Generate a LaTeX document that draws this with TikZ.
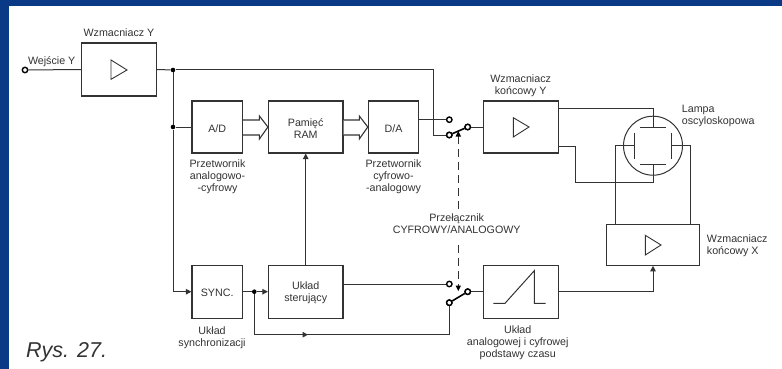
\documentclass[tikz,border=0pt]{standalone}
\usepackage{fontspec}
\setmainfont{Liberation Sans}
\usetikzlibrary{arrows.meta,calc}
\definecolor{frameblue}{HTML}{0A3A85}
\definecolor{ink}{HTML}{333333}
\tikzset{
  x=1pt,y=-1pt,
  wire/.style={draw=ink,line width=1pt},
  arr/.style={wire,-{Triangle[length=5.5pt,width=5.5pt]}},
  block/.style={draw=ink,line width=1.1pt,fill=white,inner sep=0pt},
  lbl/.style={inner sep=0pt,align=center,font=\fontsize{10.7}{12}\selectfont,text=ink},
  lbll/.style={lbl,align=left,anchor=west},
  intext/.style={lbl,yshift=-1.5pt},
  dot/.style={circle,fill=black,draw=none,minimum size=4.6pt,inner sep=0pt},
  term/.style={circle,fill=white,draw=black,line width=1.4pt,minimum size=5.4pt,inner sep=0pt},
  tri/.style={draw=ink,line width=0.9pt,fill=white,line join=miter},
  plate/.style={draw=ink,line width=1pt},
  lever/.style={draw=black,line width=1.6pt},
  dashedctl/.style={draw=ink,line width=1pt,dash pattern=on 8pt off 5pt},
  hollow/.style={draw=ink,line width=1.1pt,fill=white},
}
\begin{document}
\begin{tikzpicture}
\useasboundingbox (0,0) rectangle (782,369);
\fill[white] (0,0) rectangle (782,369);
\fill[frameblue] (0,0) rectangle (782,6);
\fill[frameblue] (0,0) rectangle (9,369);

% blocks
\node[block,minimum width=74.5pt,minimum height=53pt] (wy) at (119,69.5) {};
\node[block,minimum width=50.5pt,minimum height=52pt,label={[intext]center:A/D}] (ad) at (217.2,127) {};
\node[block,minimum width=74.5pt,minimum height=52pt,label={[intext]center:{Pamięć\\RAM}}] (ram) at (305.7,127) {};
\node[block,minimum width=50.5pt,minimum height=52pt,label={[intext]center:D/A}] (da) at (393.6,127) {};
\node[block,minimum width=74.5pt,minimum height=52pt] (ky) at (521,127) {};
\node[block,minimum width=50.5pt,minimum height=52.7pt,label={[intext]center:SYNC.}] (sync) at (217.2,291.7) {};
\node[block,minimum width=74.5pt,minimum height=52.7pt,label={[intext]center:{Układ\\sterujący}}] (ster) at (305.7,291.7) {};
\node[block,minimum width=74.5pt,minimum height=52.7pt] (ramp) at (521,291.7) {};
\node[block,minimum width=92.6pt,minimum height=40.6pt] (kx) at (653,245) {};

% terminals and junctions
\node[term] (in) at (25,70) {};
\node[dot] (j1) at (173,70) {};
\node[dot] (j2) at (173,127) {};
\node[dot] (j3) at (254.3,291.7) {};
\node[term] (s1a) at (449.3,119.7) {};
\node[term] (s1b) at (449.3,135) {};
\node[term] (s1c) at (467.7,127) {};
\node[term] (s2a) at (449.3,284) {};
\node[term] (s2b) at (449.3,302.7) {};
\node[term] (s2c) at (467.7,291.7) {};

% signal path
\draw[wire] (in) -- (wy.west);
\draw[wire] (wy.east) -- (j1);
\draw[wire] (j1) -- (433.7,70) -- (433.7,135) -- (s1b);
\draw[wire] (j1) -- (j2);
\draw[wire] (j2) -- (ad.west);
\draw[arr] (j2) -- (173,291.7) -- (sync.west);
\draw[wire] (da.east |- s1a) -- (s1a);
\draw[wire] (s1c) -- (ky.west);
\draw[wire] (s2c) -- (ramp.west);
\draw[wire] (ster.east |- s2a) -- (s2a);
\draw[wire] (sync.east) -- (j3);
\draw[arr] (j3) -- (ster.west);
\draw[arr] (ster.north) -- (ram.south);
\draw[wire] (j3) -- (254.3,334.7) -- (449.3,334.7) -- (s2b);
\draw[arr] (300,334.7) -- (308,334.7);
\draw[arr] (ramp.east) -- (653,291.7) -- (kx.south);

% switch levers
\draw[lever] (s1b) -- (s1c);
\draw[lever] (s2b) -- (s2c);
\node[term] at (s1b) {};
\node[term] at (s1c) {};
\node[term] at (s2b) {};
\node[term] at (s2c) {};

% dashed control
\coordinate (c1) at (458.3,131);
\coordinate (c2) at (458.3,212);
\coordinate (c3) at (458.3,245);
\coordinate (c4) at (458.3,292);
\draw[dashedctl] ($(c1)+(0,5)$) -- (c2);
\draw[dashedctl] (c3) -- ($(c4)+(0,-5)$);
\fill[black] (c1) -- ++(-2.8,5.5) -- ++(5.6,0) -- cycle;
\fill[black] ($(c4)+(0,-1)$) -- ++(-2.8,-5.5) -- ++(5.6,0) -- cycle;

% hollow bus arrows
\foreach \a/\b/\n in {ad/ram/A,ram/da/B}{
  \path (\a.east) ++(0,-7) coordinate (\n1) (\a.east) ++(0,8) coordinate (\n2);
  \path (\b.west) ++(-8.5,-7) coordinate (\n3);
  \draw[hollow] (\n1) -- (\n3) -- ++(0,-4) -- (\b.west) -- ($(\n3)+(0,19)$) -- ++(0,-4) -- (\n2);
}

% lamp
\node[circle,draw=ink,line width=1pt,minimum size=59pt,inner sep=0pt] (lamp) at (653,145.7) {};
\coordinate (pt) at (653,127);
\coordinate (pb) at (653,164.3);
\coordinate (pl) at (634.3,145.7);
\coordinate (pr) at (671.7,145.7);
\draw[plate] ($(pt)+(-13,0)$) -- ($(pt)+(13,0)$);
\draw[plate] ($(pb)+(-13,0)$) -- ($(pb)+(13,0)$);
\draw[plate] ($(pl)+(0,-12.8)$) -- ($(pl)+(0,12.8)$);
\draw[plate] ($(pr)+(0,-12.8)$) -- ($(pr)+(0,12.8)$);
\draw[wire] (ky.east |- 0,108) -- (653,108) -- (pt);
\draw[wire] (ky.east |- 0,146) -- (575.3,146) -- (575.3,182.7) -- (653,182.7) -- (pb);
\draw[wire] (pl) -- (615.7,145.7) -- (615.7,224.7);
\draw[wire] (pr) -- (690.3,145.7) -- (690.3,224.7);

% amplifier triangles
\draw[tri] (111,60) -- (127,70) -- (111,79.3) -- cycle;
\draw[tri] (513.3,117.7) -- (529,127) -- (513.3,137) -- cycle;
\draw[tri] (645.3,235.3) -- (661,245) -- (645.3,255) -- cycle;
% ramp
\draw[wire] (493.3,303.3) -- (505,303.3) -- (534.3,270.7) -- (534.3,303.3) -- (545.7,303.3);

% labels
\node[lbl] (t1) at (119,33) {Wzmacniacz Y};
\node[lbl] (t2) at (51.7,61.3) {Wejście Y};
\node[lbl] (t3) at (217.5,177) {Przetwornik\\analogowo-\\-cyfrowy};
\node[lbl] (t4) at (393.5,177) {Przetwornik\\cyfrowo-\\-analogowy};
\node[lbl] (t5) at (520.7,85.5) {Wzmacniacz\\końcowy Y};
\node[lbll] (t6) at (681.7,115.5) {Lampa\\oscyloskopowa};
\node[lbl] (t7) at (456.7,224) {Przełącznik\\CYFROWY/ANALOGOWY};
\node[lbll] (t8) at (706.7,246) {Wzmacniacz\\końcowy X};
\node[lbl] (t9) at (212,338) {Układ\\synchronizacji};
\node[lbl] (t10) at (517.7,342.8) {Układ\\analogowej i cyfrowej\\podstawy czasu};
\node[inner sep=0pt,anchor=base west,text=ink,font=\fontsize{21.5}{24}\selectfont\itshape] (t11) at (26,357) {Rys. 27.};
\end{tikzpicture}
\end{document}
